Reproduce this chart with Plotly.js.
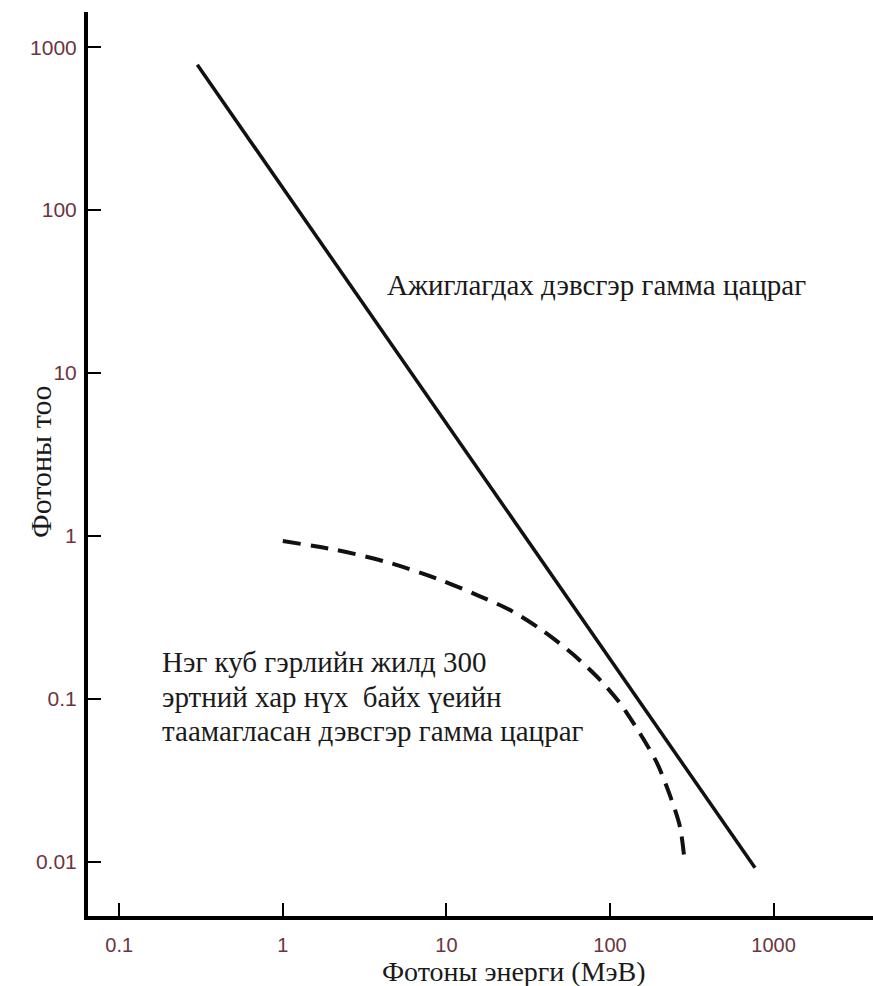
<!DOCTYPE html>
<html>
<head>
<meta charset="utf-8">
<script src="https://cdn.plot.ly/plotly-3.0.1.min.js"></script>
<style>html,body{margin:0;padding:0;background:#fff;}</style>
</head>
<body>
<div id="chart" style="width:873px;height:986px;"></div>
<script>
// Observed diffuse gamma-ray background (solid line)
const observedEnergy = [0.3, 770];
const observedCount = [780, 0.0092];

// Predicted background for 300 primordial black holes per cubic light-year (dashed)
const predictedEnergy = [1.0, 2.14, 4.33, 8.76, 15.4, 24.5, 38.9, 59.4, 86.9, 115, 152, 194, 233, 268, 287];
const predictedCount = [0.931, 0.820, 0.692, 0.548, 0.434, 0.351, 0.262, 0.188, 0.131, 0.0944, 0.0618, 0.0404, 0.0255, 0.0164, 0.0098];

const xTickVals = [0.1, 1, 10, 100, 1000];
const xTickText = ['0.1', '1', '10', '100', '1000'];
const yTickVals = [0.01, 0.1, 1, 10, 100, 1000];
const yTickText = ['0.01', '0.1', '1', '10', '100', '1000'];

const observedLabel = 'Ажиглагдах дэвсгэр гамма цацраг';
const predictedLabelLines = [
  'Нэг куб гэрлийн жилд 300',
  'эртний хар нүх\u00a0\u00a0байх үеийн',
  'таамагласан дэвсгэр гамма цацраг'
];
const xTitle = 'Фотоны энерги (МэВ)';
const yTitle = 'Фотоны тоо';

const serif = 'Liberation Serif, Times New Roman, serif';
const tickColor = '#6b3540';
const textColor = '#1a1a1a';

const traces = [
  {
    x: observedEnergy, y: observedCount, type: 'scatter', mode: 'lines',
    line: {color: '#111', width: 3.5}, hoverinfo: 'skip', showlegend: false
  },
  {
    x: predictedEnergy, y: predictedCount, type: 'scatter', mode: 'lines',
    line: {color: '#111', width: 4, dash: '18px,10px', shape: 'spline', smoothing: 0.8},
    hoverinfo: 'skip', showlegend: false
  }
];

// pixel geometry of the plotting area
const W = 873, H = 986, ML = 88, MR = 0, MT = 12, MB = 70;
const plotW = W - ML - MR, plotH = H - MT - MB;
const yRange = [-2.332, 3.216];
// convert a pixel row inside the plot into a log10 y-axis value (for text anchors)
const rowToLogY = py => yRange[1] - (py - MT) / plotH * (yRange[1] - yRange[0]);

const annotations = [
  {
    x: Math.log10(4.22), y: Math.log10(34.7), xref: 'x', yref: 'y',
    text: observedLabel, showarrow: false, xanchor: 'left', yanchor: 'middle',
    font: {family: serif, size: 29, color: textColor}
  }
];
const lineRows = [662, 697, 731];
predictedLabelLines.forEach((t, i) => {
  annotations.push({
    x: -0.751, y: rowToLogY(lineRows[i]), xref: 'x', yref: 'y',
    text: t, showarrow: false, xanchor: 'left', yanchor: 'middle',
    font: {family: serif, size: 29, color: textColor}
  });
});
annotations.push({
  x: (514 - ML) / plotW, y: (H - MB - 971) / plotH, xref: 'paper', yref: 'paper',
  xanchor: 'center', yanchor: 'middle', text: xTitle, showarrow: false,
  font: {family: serif, size: 28, color: textColor}
});
annotations.push({
  x: (40 - ML) / plotW, y: (H - MB - 462) / plotH, xref: 'paper', yref: 'paper',
  xanchor: 'center', yanchor: 'middle', text: yTitle, showarrow: false, textangle: -90,
  font: {family: serif, size: 30, color: textColor}
});

const layout = {
  width: W, height: H,
  margin: {l: ML, r: MR, t: MT, b: MB},
  paper_bgcolor: '#fff', plot_bgcolor: '#fff',
  showlegend: false,
  xaxis: {
    type: 'log', range: [-1.191, 3.608],
    showgrid: false, zeroline: false,
    showline: true, linecolor: '#000', linewidth: 4,
    ticks: 'inside', ticklen: 13, tickwidth: 2, tickcolor: '#000',
    tickvals: xTickVals, ticktext: xTickText,
    tickfont: {family: 'Liberation Sans, Arial, sans-serif', size: 20, color: tickColor},
    ticklabelstandoff: 8
  },
  yaxis: {
    type: 'log', range: yRange,
    showgrid: false, zeroline: false,
    showline: true, linecolor: '#000', linewidth: 4,
    ticks: 'inside', ticklen: 13, tickwidth: 2, tickcolor: '#000',
    tickvals: yTickVals, ticktext: yTickText,
    tickfont: {family: 'Liberation Sans, Arial, sans-serif', size: 21, color: tickColor},
    ticklabelstandoff: 3
  },
  annotations: annotations
};

Plotly.newPlot('chart', traces, layout, {displayModeBar: false, staticPlot: true});
</script>
</body>
</html>
